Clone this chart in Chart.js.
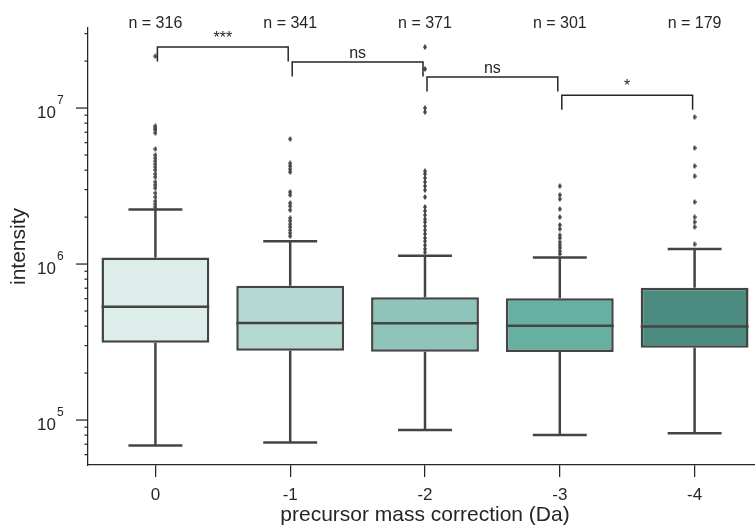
<!DOCTYPE html>
<html>
<head>
<meta charset="utf-8">
<script src="https://cdn.jsdelivr.net/npm/chart.js@4"></script>
<style>
  html, body { margin: 0; padding: 0; overflow: hidden; background: #fff; }
  #contenedor { position: absolute; left: 0; top: 0; width: 766px; height: 529px; }
</style>
</head>
<body>
<div id="contenedor"><canvas id="graficoCajas"></canvas></div>
<script>
// Datos
const categorias = ['0', '-1', '-2', '-3', '-4'];
const nMuestras = [316, 341, 371, 301, 179];
const q1 = [3.13e5, 2.78e5, 2.74e5, 2.73e5, 2.91e5];
const mediana = [5.33e5, 4.19e5, 4.17e5, 4.02e5, 3.98e5];
const q3 = [1.10e6, 7.26e5, 6.12e5, 6.03e5, 7.05e5];
const bigoteAlto = [2.24e6, 1.40e6, 1.13e6, 1.10e6, 1.25e6];
const bigoteBajo = [6.88e4, 7.19e4, 8.63e4, 8.02e4, 8.22e4];
const atipicos = [
    [2.15e7, 7.67e6, 7.45e6, 7.23e6, 6.92e6, 5.46e6, 5.00e6, 4.78e6, 4.57e6, 4.37e6, 4.18e6,
     4.01e6, 3.78e6, 3.61e6, 3.36e6, 3.21e6, 3.07e6, 2.85e6, 2.69e6, 2.53e6, 2.42e6, 2.32e6],
    [6.33e6, 4.43e6, 4.25e6, 4.06e6, 3.89e6, 2.90e6, 2.77e6, 2.46e6, 2.35e6, 2.22e6, 1.97e6,
     1.89e6, 1.80e6, 1.73e6, 1.65e6, 1.58e6, 1.51e6],
    [2.46e7, 1.78e7, 1.00e7, 9.43e6, 3.94e6, 3.78e6, 3.56e6, 3.36e6, 3.16e6, 2.98e6, 2.69e6,
     2.32e6, 2.19e6, 2.06e6, 1.94e6, 1.86e6, 1.75e6, 1.65e6, 1.56e6, 1.47e6, 1.40e6, 1.32e6,
     1.25e6, 1.19e6],
    [3.16e6, 2.77e6, 2.61e6, 2.25e6, 2.00e6, 1.78e6, 1.68e6, 1.53e6, 1.47e6, 1.38e6, 1.32e6,
     1.27e6, 1.21e6, 1.16e6],
    [8.75e6, 5.55e6, 4.25e6, 3.66e6, 2.50e6, 2.00e6, 1.86e6, 1.73e6, 1.34e6]
];
// Comparaciones: [grupo A, grupo B, etiqueta] y altura de cada corchete
const comparaciones = [[0, 1, '***'], [1, 2, 'ns'], [2, 3, 'ns'], [3, 4, '*']];
const alturaCorchete = [2.46e7, 1.97e7, 1.58e7, 1.21e7];
const yMinimo = 5.15e4;
const yMaximo = 3.26e7;

const colores = ['#dcedea', '#b5d9d2', '#8ec4b9', '#67afa1', '#4c8b7f'];
const gris = '#444444';
const texto = '#262626';
const fuente = '"Liberation Sans", Arial, sans-serif';

// Marcador: diamante delgado
const marcador = document.createElement('canvas');
marcador.width = 4; marcador.height = 6;
(function() {
    let c = marcador.getContext('2d');
    c.fillStyle = gris;
    c.beginPath();
    c.moveTo(2, 0); c.lineTo(4, 3); c.lineTo(2, 6); c.lineTo(0, 3);
    c.closePath();
    c.fill();
})();

let puntosAtipicos = [];
atipicos.forEach((lista, i) => {
    lista.forEach(v => puntosAtipicos.push({ x: categorias[i], y: v }));
});

function linea(ctx, x1, y1, x2, y2) {
    ctx.beginPath();
    ctx.moveTo(x1, y1);
    ctx.lineTo(x2, y2);
    ctx.stroke();
}

// Bigotes y medianas
const extrasCaja = {
    id: 'extrasCaja',
    beforeDatasetsDraw(chart) {
        const ctx = chart.ctx, y = chart.scales.y;
        ctx.save();
        ctx.strokeStyle = gris;
        ctx.lineWidth = 2.5;
        chart.getDatasetMeta(0).data.forEach((caja, i) => {
            const tapa = caja.width / 4;
            const yQ1 = y.getPixelForValue(q1[i]), yQ3 = y.getPixelForValue(q3[i]);
            const yAlto = y.getPixelForValue(bigoteAlto[i]), yBajo = y.getPixelForValue(bigoteBajo[i]);
            linea(ctx, caja.x, yQ3, caja.x, yAlto);
            linea(ctx, caja.x, yQ1, caja.x, yBajo);
            linea(ctx, caja.x - tapa, yAlto, caja.x + tapa, yAlto);
            linea(ctx, caja.x - tapa, yBajo, caja.x + tapa, yBajo);
        });
        ctx.restore();
    },
    afterDatasetsDraw(chart) {
        const ctx = chart.ctx, y = chart.scales.y;
        ctx.save();
        ctx.strokeStyle = gris;
        ctx.lineWidth = 2.5;
        chart.getDatasetMeta(0).data.forEach((caja, i) => {
            const yMed = y.getPixelForValue(mediana[i]);
            linea(ctx, caja.x - caja.width / 2, yMed, caja.x + caja.width / 2, yMed);
        });
        ctx.restore();
    }
};

// Marcas y etiquetas del eje logarítmico (10^n)
const ejeLog = {
    id: 'ejeLog',
    afterDraw(chart) {
        const ctx = chart.ctx, esc = chart.scales.y;
        const x0 = chart.chartArea.left;
        ctx.save();
        ctx.strokeStyle = texto;
        ctx.fillStyle = texto;
        ctx.lineWidth = 1.25;
        esc.ticks.forEach(t => {
            const v = t.value;
            const exp = Math.floor(Math.log10(v) + 1e-9);
            const m = v / Math.pow(10, exp);
            if (Math.abs(m - Math.round(m)) > 1e-6) return;
            const py = esc.getPixelForValue(v);
            const mayor = Math.round(m) === 1;
            linea(ctx, x0 - (mayor ? 12 : 3.5), py, x0, py);
            if (mayor) {
                ctx.font = '17px ' + fuente;
                ctx.textAlign = 'right';
                ctx.textBaseline = 'alphabetic';
                ctx.fillText('10', x0 - 32, py + 10);
                ctx.font = '12px ' + fuente;
                ctx.textAlign = 'left';
                ctx.fillText(String(exp), x0 - 31, py - 4);
            }
        });
        ctx.restore();
    }
};

// Tamaños de muestra y corchetes de significancia
const anotaciones = {
    id: 'anotaciones',
    afterDraw(chart) {
        const ctx = chart.ctx, x = chart.scales.x, y = chart.scales.y;
        ctx.save();
        ctx.fillStyle = texto;
        ctx.strokeStyle = texto;
        ctx.lineWidth = 1.5;
        ctx.font = '16px ' + fuente;
        ctx.textAlign = 'center';
        ctx.textBaseline = 'alphabetic';
        categorias.forEach((c, i) => {
            ctx.fillText('n = ' + nMuestras[i], x.getPixelForValue(i), chart.chartArea.top);
        });
        comparaciones.forEach(([a, b, etiqueta], k) => {
            const xa = x.getPixelForValue(a) + 2;
            const xb = x.getPixelForValue(b) - 2;
            const yc = y.getPixelForValue(alturaCorchete[k]);
            ctx.beginPath();
            ctx.moveTo(xa, yc + 14.5);
            ctx.lineTo(xa, yc);
            ctx.lineTo(xb, yc);
            ctx.lineTo(xb, yc + 14.5);
            ctx.stroke();
            ctx.fillText(etiqueta, (xa + xb) / 2, yc - 4);
        });
        ctx.restore();
    }
};

new Chart(document.getElementById('graficoCajas'), {
    type: 'bar',
    data: {
        labels: categorias,
        datasets: [{
            data: categorias.map((c, i) => [q1[i], q3[i]]),
            backgroundColor: colores,
            borderColor: gris,
            borderWidth: 2.5,
            borderSkipped: false,
            barPercentage: 0.8,
            categoryPercentage: 1
        }, {
            type: 'line',
            data: puntosAtipicos,
            showLine: false,
            pointStyle: marcador,
            pointRadius: 3,
            pointBackgroundColor: gris,
            pointBorderWidth: 0
        }]
    },
    options: {
        responsive: true,
        maintainAspectRatio: false,
        animation: false,
        layout: { padding: { top: 28, right: 0, left: 0, bottom: 0 } },
        plugins: { legend: { display: false }, tooltip: { enabled: false } },
        scales: {
            x: {
                type: 'category',
                offset: true,
                grid: { display: true, offset: false, drawOnChartArea: false, drawTicks: true,
                        tickLength: 12, color: texto, lineWidth: 1.25 },
                border: { display: true, color: texto, width: 1.25 },
                ticks: { color: texto, font: { size: 17, family: fuente }, padding: 8 },
                title: { display: true, text: 'precursor mass correction (Da)', color: texto,
                         font: { size: 21, family: fuente }, padding: { top: 0, bottom: 1 } },
                afterFit: function(escala) { escala.height = 64; }
            },
            y: {
                type: 'logarithmic',
                min: yMinimo,
                max: yMaximo,
                grid: { display: false },
                border: { display: true, color: texto, width: 1.25 },
                ticks: { display: false },
                title: { display: true, text: 'intensity', color: texto,
                         font: { size: 21, family: fuente }, padding: { top: 7, bottom: 0 } },
                afterFit: function(escala) { escala.width = 88; }
            }
        }
    },
    plugins: [extrasCaja, ejeLog, anotaciones]
});
</script>
</body>
</html>
